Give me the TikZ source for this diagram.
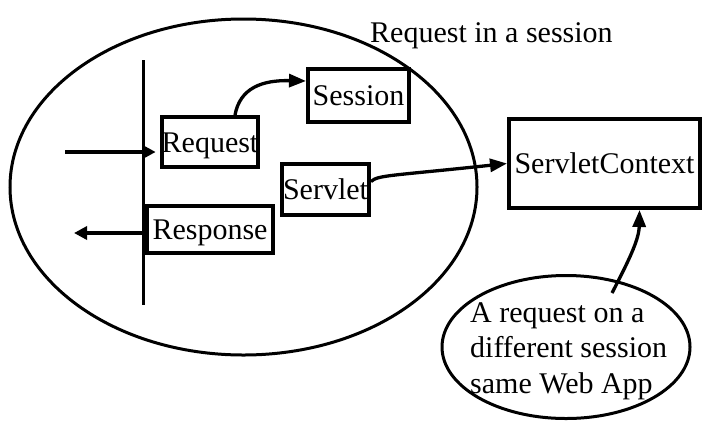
\documentclass[tikz,border=0pt]{standalone}
\usepackage{fontspec}
\setmainfont{Liberation Serif}
\usetikzlibrary{arrows.meta,shapes.geometric}
\begin{document}
\begin{tikzpicture}[x=1pt,y=-1pt,
  txt/.style={font=\fontsize{30}{35.5}\selectfont, inner sep=0pt},
  box/.style={draw, line width=4pt, txt, text height=20pt, text depth=0pt},
  arr/.style={line width=4.5pt, -{Triangle[length=13pt,width=13pt]}},
  carr/.style={line width=3.3pt, -{Triangle[length=17pt,width=13pt]}}]
\useasboundingbox (0,0) rectangle (727,426);
% big ellipse
\node[draw, ellipse, line width=3pt, minimum width=467pt, minimum height=336pt, inner sep=0pt] (bigell) at (243.5,187) {};
\node[txt, anchor=base west] (title) at (370,42) {Request in a session};
% vertical line
\coordinate (vtop) at (143,60);
\coordinate (vbot) at (143,305);
\draw[line width=3pt] (vtop) -- (vbot);
% boxes
\node[box, minimum width=96pt, minimum height=50pt] (req) at (210,142) {Request};
\node[box, minimum width=101pt, minimum height=53pt] (sess) at (358.5,95.5) {Session};
\node[box, minimum width=87pt, minimum height=51pt] (serv) at (325.5,189.5) {Servlet};
\node[box, minimum width=126pt, minimum height=47pt] (resp) at (210,229.5) {Response};
\node[box, minimum width=191pt, minimum height=89pt] (ctx) at (604.5,163.5) {ServletContext};
% small ellipse
\node[draw, ellipse, line width=3pt, minimum width=248pt, minimum height=143pt, inner sep=0pt] (note) at (566,347) {};
\node[txt, align=left, anchor=west] (notetext) at (470,350.8) {A request on a\\different session\\same Web App};
% arrows
\coordinate (inA) at (65,152);
\coordinate (outA) at (74,233);
\coordinate (nstart) at (612,293);
\draw[arr] (inA) -- ([xshift=-4pt,yshift=-10pt]req.west);
\draw[arr] ([yshift=-3.5pt]resp.west) -- (outA);
\draw[carr] ([xshift=25pt]req.north) .. controls (240,88) and (262,80) .. ([yshift=14.5pt]sess.west);
\draw[carr] ([yshift=8pt]serv.east) .. controls (378,175) and (390,176) .. (ctx.west);
\draw[carr] (nstart) .. controls (628,262) and (639,240) .. ([xshift=35pt]ctx.south);
\end{tikzpicture}
\end{document}
